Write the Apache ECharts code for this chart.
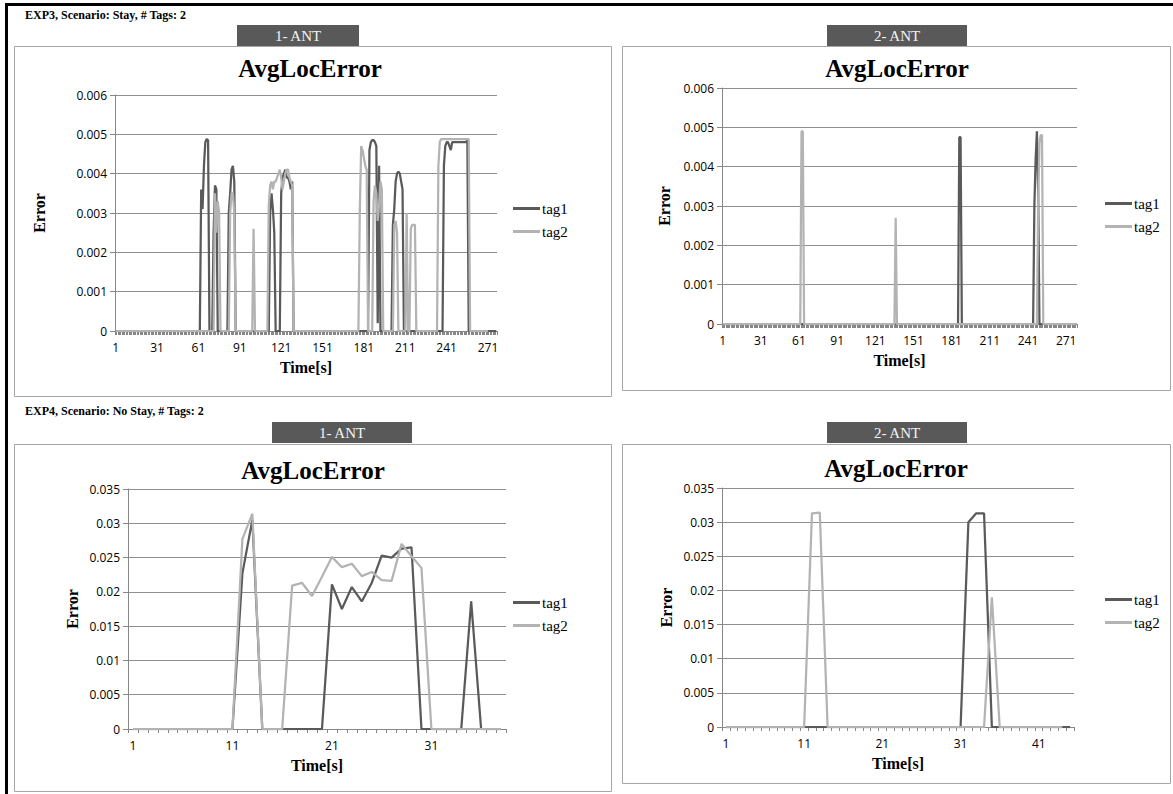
<!DOCTYPE html>
<html>
<head>
<meta charset="utf-8">
<title>AvgLocError</title>
<script src="https://cdn.jsdelivr.net/npm/echarts@6/dist/echarts.min.js"></script>
<style>
  html, body { margin: 0; padding: 0; background: #fff; }
  #myChart { width: 1173px; height: 794px; }
</style>
</head>
<body>
<div id="myChart"></div>
<script>
// EXP3 (Stay): mostly zero, so only the non-zero stretches are listed as [first sample, values]
const exp3Ant1Count = 277
const exp3Ant1Tag1 = [
  [63, [0.0036, 0.0031, 0.0042, 0.0048, 0.00488, 0.00485]],
  [72, [0.0025, 0.0037, 0.0036]],
  [83, [0.003, 0.0035, 0.0041, 0.0042, 0.0038]],
  [113, [0.003, 0.0035, 0.0031, 0.0025]],
  [121, [0.0035, 0.0039, 0.004, 0.0041, 0.0039, 0.0039, 0.0038, 0.0036, 0.0038]],
  [185, [0.0046, 0.0048, 0.00485, 0.00485, 0.0048, 0.0047, 0.0002, 0.0042]],
  [202, [0.0027, 0.0031, 0.0038, 0.004, 0.00405, 0.004, 0.0038, 0.0036]],
  [239, [0.0042, 0.0047, 0.0048, 0.0048, 0.0047, 0.0046, 0.0048, 0.0048, 0.0048,
    0.0048, 0.0048, 0.0048, 0.0048, 0.0048, 0.0048, 0.0048, 0.0048, 0.00485]]
]
const exp3Ant1Tag2Count = 271
const exp3Ant1Tag2 = [
  [73, [0.0035, 0.0025, 0.0033, 0.003]],
  [84, [0.003, 0.0035, 0.0035, 0.003]],
  [101, [0.0026]],
  [112, [0.0032, 0.0037, 0.0038, 0.0036, 0.0038, 0.0038, 0.0039, 0.004, 0.0041,
    0.0039, 0.0036, 0.0038, 0.004, 0.0041, 0.0041, 0.0039, 0.0038, 0.0037]],
  [178, [0.003, 0.0047, 0.0046, 0.0044, 0.0042, 0.0041]],
  [188, [0.0033, 0.0037, 0.0035, 0.0028, 0.0032, 0.0038, 0.0036]],
  [203, [0.0027, 0.0028, 0.0025]],
  [212, [0.003]],
  [215, [0.0026, 0.0027, 0.0027, 0.0027]],
  [235, [0.0042, 0.0048, 0.00488, 0.00488, 0.00488, 0.00488, 0.00488, 0.00488, 0.00488,
    0.00488, 0.00488, 0.00488, 0.00488, 0.00488, 0.00488, 0.00488, 0.00488, 0.00488,
    0.00488, 0.00488, 0.00488, 0.00488, 0.00488]]
]
const exp3Ant2Count = 279
const exp3Ant2Tag1 = [
  [187, [0.00475, 0.00475]],
  [246, [0.003, 0.0042, 0.0049, 0.0033]]
]
const exp3Ant2Tag2 = [
  [63, [0.0049, 0.0049]],
  [137, [0.0027]],
  [249, [0.0031, 0.0046, 0.0048, 0.0048]]
]

// EXP4 (No Stay)
const exp4Ant1Tag1 = [0, 0, 0, 0, 0, 0, 0, 0, 0, 0, 0, 0.0227, 0.0305, 0, 0, 0, 0, 0, 0, 0,
  0.0211, 0.0175, 0.0207, 0.0186, 0.0213, 0.0253, 0.025, 0.0263, 0.0265, 0, 0, 0, 0, 0,
  0.0186, 0, 0, 0]
const exp4Ant1Tag2 = [0, 0, 0, 0, 0, 0, 0, 0, 0, 0, 0, 0.0277, 0.0314, 0, 0, 0,
  0.0209, 0.0213, 0.0194, 0.0222, 0.0251, 0.0236, 0.0241, 0.0223, 0.0229, 0.0217, 0.0216,
  0.027, 0.0252, 0.0235, 0, 0, 0, 0, 0, 0, 0, 0]
const exp4Ant2Tag1 = [0, 0, 0, 0, 0, 0, 0, 0, 0, 0, 0, 0, 0, 0, 0, 0, 0, 0, 0, 0, 0, 0, 0,
  0, 0, 0, 0, 0, 0, 0, 0, 0.03, 0.0313, 0.0313, 0, 0, 0, 0, 0, 0, 0, 0, 0, 0, 0]
const exp4Ant2Tag2 = [0, 0, 0, 0, 0, 0, 0, 0, 0, 0, 0, 0.0313, 0.0314, 0, 0, 0, 0, 0, 0, 0,
  0, 0, 0, 0, 0, 0, 0, 0, 0, 0, 0, 0, 0, 0, 0.019, 0, 0, 0, 0, 0, 0, 0, 0, 0]

const SERIF = '"Liberation Serif", "Times New Roman", serif'
const SANS = '"Open Sans", "Liberation Sans", Arial, sans-serif'
const DARK = '#5a5a5a'
const LIGHT = '#b3b3b3'
const AXIS = '#878787'

function expand (count, runs) {
  const out = new Array(count).fill(0)
  runs.forEach(([start, vals]) => {
    vals.forEach((v, k) => { out[start - 1 + k] = v })
  })
  return out
}

function labels (count) {
  const out = []
  for (let i = 1; i <= count; i++) out.push(String(i))
  return out
}

const panels = [
  { grid: { left: 115, top: 95, width: 382, height: 236 }, cats: labels(exp3Ant1Count), step: 30,
    max: 0.006, interval: 0.001, yGap: 68, legend: { left: 508, top: 196 },
    tag1: expand(exp3Ant1Count, exp3Ant1Tag1), tag2: expand(exp3Ant1Tag2Count, exp3Ant1Tag2) },
  { grid: { left: 722, top: 88, width: 355, height: 236 }, cats: labels(exp3Ant2Count), step: 30,
    max: 0.006, interval: 0.001, yGap: 50, legend: { left: 1100, top: 191 },
    tag1: expand(exp3Ant2Count, exp3Ant2Tag1), tag2: expand(exp3Ant2Count, exp3Ant2Tag2) },
  { grid: { left: 128, top: 489, width: 378, height: 240 }, cats: labels(exp4Ant1Tag1.length), step: 10,
    max: 0.035, interval: 0.005, yGap: 48, legend: { left: 508, top: 590 },
    tag1: exp4Ant1Tag1, tag2: exp4Ant1Tag2 },
  { grid: { left: 722, top: 488, width: 352, height: 239 }, cats: labels(exp4Ant2Tag1.length), step: 10,
    max: 0.035, interval: 0.005, yGap: 48, legend: { left: 1100, top: 587 },
    tag1: exp4Ant2Tag1, tag2: exp4Ant2Tag2 }
]

function text (str, x, y, font, align, fill) {
  return {
    type: 'text', x: x, y: y, z: 10,
    style: { text: str, font: font, fill: fill || '#000', align: align || 'center', verticalAlign: 'middle',
      textAlign: align || 'center', textVerticalAlign: 'middle' }
  }
}
function box (x, y, w, h) {
  return { type: 'rect', shape: { x: x + 0.5, y: y + 0.5, width: w, height: h },
    style: { fill: 'none', stroke: '#a6a6a6', lineWidth: 1 } }
}
function tab (x, y, w, label) {
  return [
    { type: 'rect', z: 5, shape: { x: x, y: y, width: w, height: 21 }, style: { fill: '#595959' } },
    text(label, x + w / 2, y + 11, '15px ' + SERIF, 'center', '#f2f2f2')
  ]
}

const graphics = [
  { type: 'rect', shape: { x: 5, y: 3, width: 3, height: 791 }, style: { fill: '#000' } },
  { type: 'rect', shape: { x: 5, y: 3, width: 1168, height: 3 }, style: { fill: '#000' } },
  text('EXP3, Scenario: Stay, # Tags: 2', 25, 15, 'bold 12px ' + SERIF, 'left'),
  text('EXP4, Scenario: No Stay, # Tags: 2', 25, 411, 'bold 12px ' + SERIF, 'left'),
  box(14, 46, 597, 350),
  box(622, 46, 548, 344),
  box(14, 444, 597, 347),
  box(622, 444, 548, 339),
  ...tab(237, 25, 122, '1- ANT'),
  ...tab(827, 25, 140, '2- ANT'),
  ...tab(272, 422, 140, '1- ANT'),
  ...tab(827, 422, 140, '2- ANT'),
  text('AvgLocError', 310, 68, 'bold 25px ' + SERIF),
  text('AvgLocError', 897, 68, 'bold 25px ' + SERIF),
  text('AvgLocError', 313, 470, 'bold 25px ' + SERIF),
  text('AvgLocError', 896, 468, 'bold 25px ' + SERIF)
]

const myChart = echarts.init(document.getElementById('myChart'), null, { renderer: 'svg' })
myChart.setOption({
  animation: false,
  backgroundColor: '#fff',
  graphic: graphics,
  grid: panels.map(p => Object.assign({ containLabel: false }, p.grid)),
  legend: panels.map(p => ({
    orient: 'vertical', left: p.legend.left, top: p.legend.top,
    data: ['tag1', 'tag2'], icon: 'rect', itemWidth: 27, itemHeight: 3, itemGap: 8,
    textStyle: { fontFamily: SERIF, fontSize: 15, color: '#000', padding: [0, 0, 0, -3] }
  })),
  xAxis: panels.map((p, i) => ({
    type: 'category', gridIndex: i, data: p.cats, boundaryGap: true,
    axisLine: { show: true, lineStyle: { color: AXIS, width: 1 } },
    axisTick: { show: true, interval: 0, length: 4, lineStyle: { color: AXIS } },
    axisLabel: { interval: p.step - 1, margin: 10, color: '#000', fontFamily: SANS, fontSize: 12 },
    splitLine: { show: false },
    name: 'Time[s]', nameLocation: 'middle', nameGap: 28,
    nameTextStyle: { fontFamily: SERIF, fontWeight: 'bold', fontSize: 16, color: '#000' }
  })),
  yAxis: panels.map((p, i) => ({
    type: 'value', gridIndex: i, min: 0, max: p.max, interval: p.interval,
    axisLine: { show: true, lineStyle: { color: AXIS, width: 1 } },
    axisTick: { show: true, length: 5, lineStyle: { color: AXIS } },
    axisLabel: { margin: 8, color: '#000', fontFamily: SANS, fontSize: 12 },
    splitLine: { show: true, lineStyle: { color: '#8f8f8f', width: 1 } },
    name: 'Error', nameLocation: 'middle', nameGap: p.yGap, nameRotate: 90,
    nameTextStyle: { fontFamily: SERIF, fontWeight: 'bold', fontSize: 16, color: '#000' }
  })),
  series: panels.flatMap((p, i) => [
    { name: 'tag1', type: 'line', xAxisIndex: i, yAxisIndex: i, data: p.tag1, symbol: 'none',
      lineStyle: { color: DARK, width: 2.25 }, itemStyle: { color: DARK } },
    { name: 'tag2', type: 'line', xAxisIndex: i, yAxisIndex: i, data: p.tag2, symbol: 'none',
      lineStyle: { color: LIGHT, width: 2.25 }, itemStyle: { color: LIGHT } }
  ])
})
</script>
</body>
</html>
